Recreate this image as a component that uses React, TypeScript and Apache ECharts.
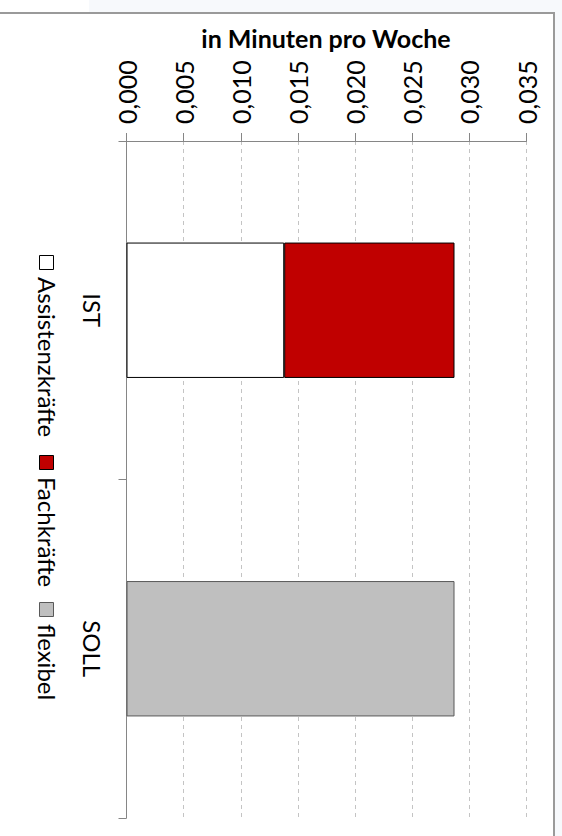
import React, { useEffect, useRef } from 'react';
import * as echarts from 'echarts';

const categories = ['IST', 'SOLL'];
const seriesNames = ['Assistenzkräfte', 'Fachkräfte', 'flexibel'];
const assistenz: (number | null)[] = [0.0138, null];
const fach: (number | null)[] = [0.0149, null];
const flexibel: (number | null)[] = [null, 0.0287];
const valueMin = 0;
const valueMax = 0.035;
const valueStep = 0.005;
const chartTitle = 'in Minuten pro Woche';

const FONT = 'Lato, Carlito, Calibri, sans-serif';
const colors = ['#ffffff', '#c00000', '#bfbfbf'];
const borders = ['#000000', '#000000', '#595959'];

export default function App() {
  const ref = useRef<HTMLDivElement>(null);
  useEffect(() => {
    if (!ref.current) return;
    const chart = echarts.init(ref.current, null, { renderer: 'svg' });
    const seriesData = [assistenz, fach, flexibel];
    const legendSquareY = [255, 455, 602];
    const legendTextY = [277, 477, 624];
    const legendChildren: any[] = [];
    seriesNames.forEach((name, i) => {
      legendChildren.push({
        type: 'rect',
        shape: { x: 39.5, y: legendSquareY[i] + 0.5, width: 14, height: 14 },
        style: { fill: colors[i], stroke: i === 2 ? '#595959' : '#000', lineWidth: 1 },
      });
      legendChildren.push({
        type: 'text',
        x: 47,
        y: legendTextY[i],
        rotation: -Math.PI / 2,
        style: {
          text: name,
          fill: '#000',
          font: `24px ${FONT}`,
          textAlign: 'left',
          textVerticalAlign: 'middle',
        },
      });
    });
    chart.setOption({
      animation: false,
      backgroundColor: '#ffffff',
      grid: { left: 126.5, top: 141, width: 400, height: 677, containLabel: false },
      xAxis: {
        type: 'value',
        position: 'top',
        min: valueMin,
        max: valueMax,
        interval: valueStep,
        axisLine: { show: true, lineStyle: { color: '#868686', width: 1 } },
        axisTick: { show: true, length: 8, lineStyle: { color: '#868686' } },
        splitLine: { show: true, lineStyle: { color: '#c4c4c4', type: [4, 4], width: 1 } },
        axisLabel: {
          rotate: -90,
          margin: 17,
          color: '#000',
          fontFamily: FONT,
          fontSize: 25,
          formatter: (v: number) => v.toFixed(3).replace('.', ','),
        },
      },
      yAxis: {
        type: 'category',
        data: categories,
        inverse: true,
        axisLine: { show: true, lineStyle: { color: '#868686', width: 1 } },
        axisTick: { show: true, length: 8, lineStyle: { color: '#868686' } },
        axisLabel: {
          rotate: -90,
          margin: 22,
          color: '#000',
          fontFamily: FONT,
          fontSize: 24,
        },
      },
      series: seriesNames.map((name, i) => ({
        name,
        type: 'bar',
        stack: 'total',
        barCategoryGap: '60%',
        data: seriesData[i],
        itemStyle: { color: colors[i], borderColor: borders[i], borderWidth: 1 },
      })),
      graphic: [
        { type: 'rect', shape: { x: 89, y: 0, width: 473, height: 12 }, style: { fill: '#f7f9fc' }, silent: true },
        { type: 'rect', shape: { x: 555, y: 0, width: 7, height: 836 }, style: { fill: '#f7f9fc' }, silent: true },
        { type: 'line', shape: { x1: 0, y1: 13, x2: 555, y2: 13 }, style: { stroke: '#9a9a9a', lineWidth: 2 } },
        { type: 'line', shape: { x1: 554, y1: 12, x2: 554, y2: 836 }, style: { stroke: '#9a9a9a', lineWidth: 2 } },
        {
          type: 'text',
          x: 326,
          y: 38,
          style: {
            text: chartTitle,
            fill: '#000',
            font: `bold 25px ${FONT}`,
            textAlign: 'center',
            textVerticalAlign: 'middle',
          },
        },
        { type: 'group', children: legendChildren },
      ],
    });
    return () => chart.dispose();
  }, []);
  return (
    <div
      ref={ref}
      style={{ position: 'fixed', left: 0, top: 0, width: 562, height: 836, background: '#fff' }}
    />
  );
}
